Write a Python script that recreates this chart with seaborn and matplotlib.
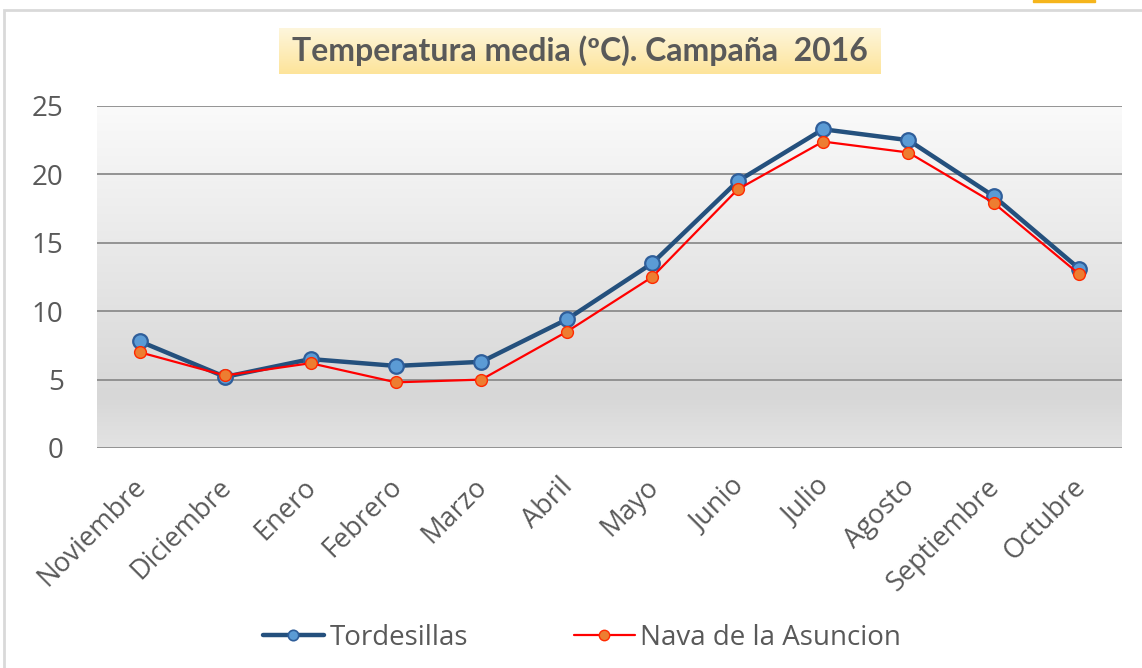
import matplotlib
matplotlib.use('Agg')
import matplotlib.pyplot as plt
import matplotlib.patches as mpatches
import matplotlib.transforms as mtransforms
from matplotlib.lines import Line2D
from matplotlib.colors import LinearSegmentedColormap
import numpy as np
import seaborn as sns

# monthly mean temperature, campaign 2016
months = ['Noviembre', 'Diciembre', 'Enero', 'Febrero', 'Marzo', 'Abril',
          'Mayo', 'Junio', 'Julio', 'Agosto', 'Septiembre', 'Octubre']
tordesillas = [7.8, 5.2, 6.5, 6.0, 6.3, 9.4, 13.5, 19.5, 23.3, 22.5, 18.4, 13.1]
nava = [7.0, 5.3, 6.2, 4.8, 5.0, 8.5, 12.5, 18.9, 22.4, 21.6, 17.9, 12.7]
yticks = [0, 5, 10, 15, 20, 25]

sns.set_theme(style='white')
plt.rcParams['font.family'] = ['Open Sans', 'DejaVu Sans']

W, H = 1142, 668
fig = plt.figure(figsize=(W / 100, H / 100), dpi=100)
ax = fig.add_axes([97 / W, 1 - 448 / H, (1122 - 97) / W, (448 - 106) / H])

# excel-like gray gradient in the plot area
grad = LinearSegmentedColormap.from_list('bg', [(0, '#e3e3e3'), (0.15, '#d7d7d7'), (1, '#fafafa')])
ax.imshow(np.linspace(0, 1, 256).reshape(-1, 1), cmap=grad, aspect='auto',
          extent=(0, 1, 0, 1), origin='lower', transform=ax.transAxes, zorder=0)

sns.lineplot(x=months, y=tordesillas, sort=False, ax=ax, color='#24507d', lw=3.2,
             marker='o', markersize=10.5, markerfacecolor='#5b9bd5', markeredgecolor='#2f5e9a',
             markeredgewidth=1.6, zorder=3)
sns.lineplot(x=months, y=nava, sort=False, ax=ax, color='#ff0000', lw=1.6,
             marker='o', markersize=8.5, markerfacecolor='#ed7d31', markeredgecolor='#ff2a00',
             markeredgewidth=1.0, zorder=4)

ax.set_xlim(-0.5, 11.5)
ax.set_ylim(0, 25)
ax.set_yticks(yticks)
ax.yaxis.grid(True, color='#8c8c8c', lw=1.3)
ax.xaxis.grid(False)
ax.set_axisbelow(True)
for s in ax.spines.values():
    s.set_visible(False)
ax.set_xlabel('')
ax.set_ylabel('')
ax.tick_params(axis='y', length=0, pad=24, labelsize=20, labelcolor='#595959')
ax.tick_params(axis='x', length=0, pad=18, labelsize=19.5, labelcolor='#595959')
# rotated month labels, nudged a little to the left like the excel original
shift = mtransforms.ScaledTranslation(-8 / 100, 0, fig.dpi_scale_trans)
for lbl in ax.get_xticklabels():
    lbl.set_rotation(45)
    lbl.set_ha('right')
    lbl.set_rotation_mode('anchor')
    lbl.set_transform(lbl.get_transform() + shift)

# title with yellow gradient box
tbg = fig.add_axes([279 / W, 1 - 74 / H, (881 - 279) / W, 46 / H], zorder=1)
tgrad = LinearSegmentedColormap.from_list('tb', ['#fde49a', '#fef6dc'])
tbg.imshow(np.linspace(0, 1, 64).reshape(-1, 1), cmap=tgrad, aspect='auto', origin='lower',
           extent=(0, 1, 0, 1))
tbg.set_axis_off()
fig.text(580 / W, 1 - 51 / H, 'Temperatura media (ºC). Campaña  2016', ha='center', va='center',
         fontsize=23, fontweight='bold', color='#595959', zorder=5,
         family=['Lato', 'DejaVu Sans'])

handles = [
    Line2D([], [], color='#24507d', lw=3.2, marker='o', markersize=7.5,
           markerfacecolor='#5b9bd5', markeredgecolor='#2f5e9a', markeredgewidth=1.2),
    Line2D([], [], color='#ff0000', lw=1.6, marker='o', markersize=7.5,
           markerfacecolor='#ed7d31', markeredgecolor='#ff2a00', markeredgewidth=1.0),
]
leg = fig.legend(handles, ['Tordesillas', 'Nava de la Asuncion'], loc='center',
                 bbox_to_anchor=(582 / W, 1 - 638 / H), ncol=2, frameon=False, fontsize=20,
                 handlelength=2.2, handletextpad=0.2, columnspacing=3.8)
for t in leg.get_texts():
    t.set_color('#595959')

# chart frame and small orange tab at top right
fig.patches.append(mpatches.Rectangle((4 / W, -0.1), 1.2, 1 - 10 / H + 0.1, transform=fig.transFigure,
                                      fill=False, edgecolor='#d9d9d9', lw=2))
fig.patches.append(mpatches.Rectangle((1033 / W, 1 - 2 / H), 62 / W, 2 / H, transform=fig.transFigure,
                                      color='#f5b51c'))

fig.savefig('out.png', dpi=100, facecolor='white')
